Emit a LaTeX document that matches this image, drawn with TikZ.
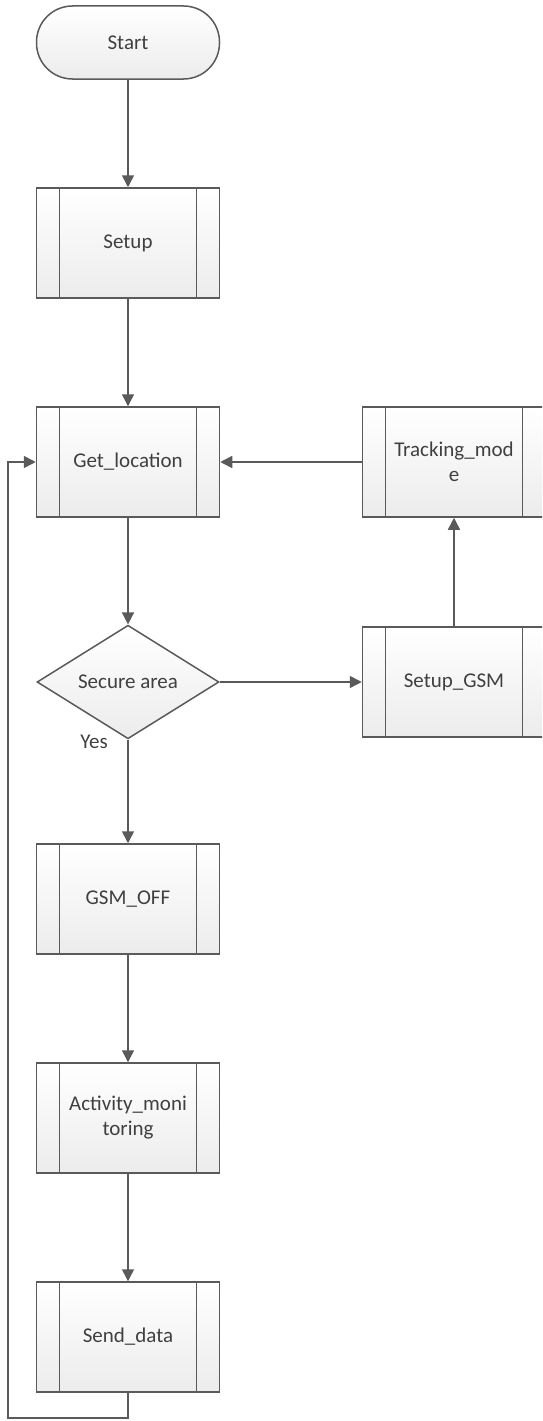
\documentclass[tikz,border=0pt]{standalone}
\usepackage{fontspec}
\setmainfont{Carlito}
\usetikzlibrary{arrows.meta,shapes.geometric}
\definecolor{ln}{HTML}{5A5A5A}
\definecolor{tx}{HTML}{404040}
\tikzset{
  base/.style={draw=ln, line width=1.5pt, text=tx, align=center, inner sep=0pt,
    top color=white, bottom color=gray!15, font=\fontsize{21}{25}\selectfont},
  proc/.style={base, rectangle, minimum width=183pt, minimum height=110pt,
    path picture={
      \draw[ln, line width=1.5pt]
        ([xshift=23pt]path picture bounding box.north west) -- ([xshift=23pt]path picture bounding box.south west)
        ([xshift=-23pt]path picture bounding box.north east) -- ([xshift=-23pt]path picture bounding box.south east);
    }},
  term/.style={base, rectangle, rounded corners=36pt, minimum width=183pt, minimum height=73pt},
  decision/.style={base, diamond, minimum width=182pt, minimum height=110pt},
  arr/.style={draw=ln, line width=1.5pt, -{Triangle[length=12pt,width=12pt]}},
  lbl/.style={text=tx, font=\fontsize{21}{25}\selectfont, inner sep=0pt}
}
\begin{document}
\begin{tikzpicture}[x=1pt,y=-1pt]
\useasboundingbox (0,0) rectangle (542,1421);
\clip (0,0) rectangle (542,1421);
\fill[white] (0,0) rectangle (542,1421);

\node[term] (start) at (128,42.5) {Start};
\node[proc] (setup) at (128,243) {Setup};
\node[proc] (getloc) at (128,462) {Get\_location};
\node[decision] (dec) at (128,682) {Secure area};
\node[proc] (gsmoff) at (128,899) {GSM\_OFF};
\node[proc] (act) at (128,1118) {Activity\_moni\\toring};
\node[proc] (send) at (128,1337) {Send\_data};
\node[proc] (track) at (454,462) {Tracking\_mod\\e};
\node[proc] (sgsm) at (454,682) {Setup\_GSM};
\node[lbl] (yes) at (94,742) {Yes};
\coordinate (lb) at (8,1418);

\draw[arr] (start) -- (setup);
\draw[arr] (setup) -- (getloc);
\draw[arr] (getloc) -- (dec);
\draw[arr] (dec.south) -- (gsmoff.north);
\draw[arr] (gsmoff) -- (act);
\draw[arr] (act) -- (send);
\draw[arr] (dec.east) -- (sgsm.west);
\draw[arr] (sgsm) -- (track);
\draw[arr] (track) -- (getloc);
\draw[arr] (send.south) |- (lb) |- (getloc.west);
\end{tikzpicture}
\end{document}
